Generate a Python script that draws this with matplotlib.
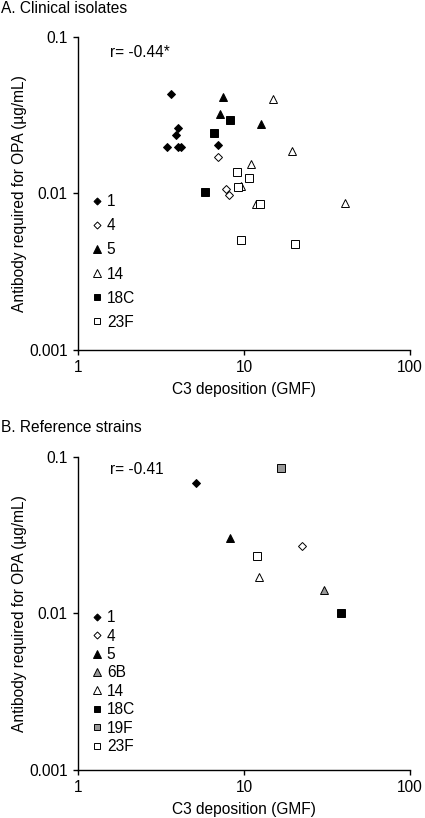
import matplotlib
matplotlib.use("Agg")
import matplotlib.pyplot as plt

plt.rcParams['font.family'] = ['Liberation Sans', 'DejaVu Sans']
plt.rcParams['font.size'] = 11.2

# A. Clinical isolates: C3 deposition (GMF) vs antibody required for OPA (ug/mL)
clinX = {
    "1": [3.45, 3.62, 3.89, 4.02, 4.02, 4.17, 7.0],
    "4": [7.0, 7.76, 8.16],
    "5": [7.44, 7.17, 12.6],
    "14": [15.0, 19.5, 11.1, 9.55, 11.8, 40.8],
    "18C": [8.27, 6.63, 5.85],
    "23F": [9.12, 10.7, 9.2, 12.5, 9.55, 20.2],
}
clinY = {
    "1": [0.0197, 0.0430, 0.0237, 0.0264, 0.0197, 0.0197, 0.0204],
    "4": [0.0172, 0.01066, 0.00981],
    "5": [0.0412, 0.0323, 0.0277],
    "14": [0.040, 0.0188, 0.0154, 0.0111, 0.00859, 0.00865],
    "18C": [0.0295, 0.0243, 0.01025],
    "23F": [0.0138, 0.0126, 0.0110, 0.00859, 0.00507, 0.00475],
}
clinR = "r= -0.44*"

# B. Reference strains
refSerotypes = ["1", "4", "5", "6B", "14", "18C", "19F", "23F"]
refX = [5.12, 22.4, 8.2, 30.3, 12.3, 38.6, 16.7, 12.0]
refY = [0.0683, 0.0271, 0.0303, 0.0141, 0.0171, 0.0101, 0.0843, 0.0232]
refR = "r= -0.41"

# marker, face colour, size
styles = {
    "1": ("D", "black", 4.2),
    "4": ("D", "white", 4.2),
    "5": ("^", "black", 6.0),
    "6B": ("^", "#999999", 6.0),
    "14": ("^", "white", 6.0),
    "18C": ("s", "black", 5.3),
    "19F": ("s", "#999999", 5.3),
    "23F": ("s", "white", 5.3),
}


def styleAxes(ax):
    ax.set_xscale("log")
    ax.set_yscale("log")
    ax.set_xlim(1, 100)
    ax.set_ylim(0.001, 0.1)
    ax.set_xticks([1, 10, 100])
    ax.set_xticklabels(["1", "10", "100"])
    ax.set_yticks([0.001, 0.01, 0.1])
    ax.set_yticklabels(["0.001", "0.01", "0.1"])
    ax.minorticks_off()
    ax.spines["top"].set_visible(False)
    ax.spines["right"].set_visible(False)
    for s in ("left", "bottom"):
        ax.spines[s].set_linewidth(1.0)
    ax.tick_params(direction="out", length=3.5, width=1.0, pad=4, labelsize=11.2)
    ax.set_xlabel("C3 deposition (GMF)", labelpad=4.5)
    ax.set_ylabel("Antibody required for OPA (\u00b5g/mL)", labelpad=1.5)


def drawPoints(ax, sero, xs, ys):
    marker, face, ms = styles[sero]
    ax.plot(xs, ys, linestyle="none", marker=marker, markersize=ms,
            markerfacecolor=face, markeredgecolor="black", markeredgewidth=0.7,
            label=sero, clip_on=False)


fig = plt.figure(figsize=(4.25, 8.18), dpi=100)

axA = fig.add_axes([0.1835, 0.5721, 0.781, 0.3827])
for sero in clinX:
    drawPoints(axA, sero, clinX[sero], clinY[sero])
styleAxes(axA)
axA.text(0.095, 0.95, clinR, transform=axA.transAxes, ha="left", va="center")
axA.legend(loc="upper left", bbox_to_anchor=(0.04, 0.497), frameon=False,
           handlelength=0.7, handletextpad=0.3, labelspacing=0.58,
           borderaxespad=0, borderpad=0, markerscale=0.85, fontsize=11.2)

axB = fig.add_axes([0.1835, 0.0587, 0.781, 0.383])
for sero, x, y in zip(refSerotypes, refX, refY):
    drawPoints(axB, sero, [x], [y])
styleAxes(axB)
axB.text(0.095, 0.96, refR, transform=axB.transAxes, ha="left", va="center")
axB.legend(loc="upper left", bbox_to_anchor=(0.04, 0.51), frameon=False,
           handlelength=0.7, handletextpad=0.3, labelspacing=0.22,
           borderaxespad=0, borderpad=0, markerscale=0.85, fontsize=11.2)

fig.text(0.003, 0.999, "A. Clinical isolates", ha="left", va="top", fontsize=11.2)
fig.text(0.003, 1 - 420 / 818, "B. Reference strains", ha="left", va="top", fontsize=11.2)

fig.savefig("out.png", dpi=100)
